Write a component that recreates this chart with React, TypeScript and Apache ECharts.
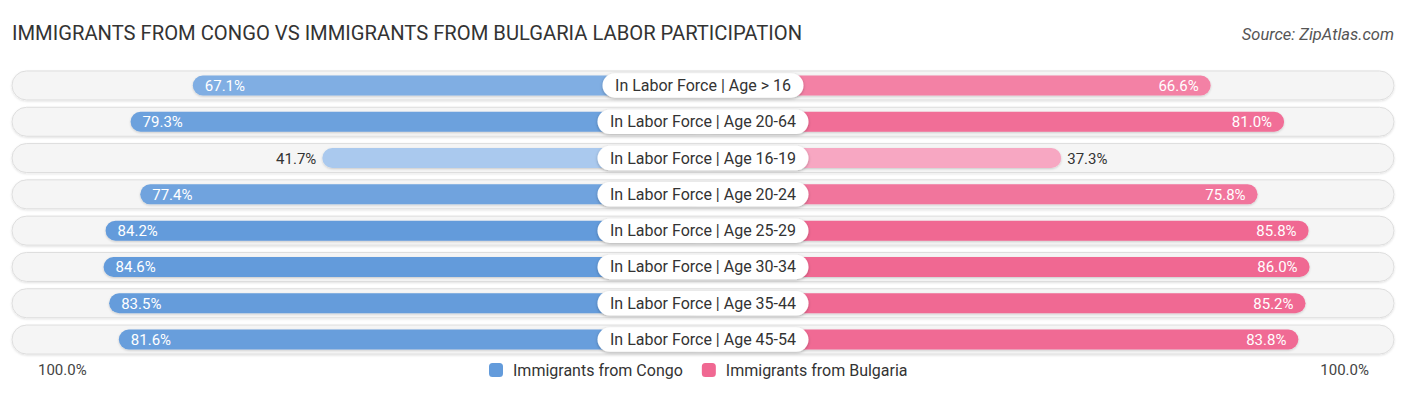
import React, { useEffect, useRef } from "react";
import * as echarts from "echarts";

const TITLE = "IMMIGRANTS FROM CONGO VS IMMIGRANTS FROM BULGARIA LABOR PARTICIPATION";
const SOURCE = "Source: ZipAtlas.com";
const CATEGORIES = [
  "In Labor Force | Age > 16",
  "In Labor Force | Age 20-64",
  "In Labor Force | Age 16-19",
  "In Labor Force | Age 20-24",
  "In Labor Force | Age 25-29",
  "In Labor Force | Age 30-34",
  "In Labor Force | Age 35-44",
  "In Labor Force | Age 45-54",
];
const CONGO = [67.1, 79.3, 41.7, 77.4, 84.2, 84.6, 83.5, 81.6];
const BULGARIA = [66.6, 81.0, 37.3, 75.8, 85.8, 86.0, 85.2, 83.8];
const SERIES_NAMES = ["Immigrants from Congo", "Immigrants from Bulgaria"];
const AXIS_MAX = 100;

const BLUE_LIGHT = [170, 201, 238];
const BLUE_DARK = [99, 155, 219];
const PINK_LIGHT = [247, 167, 194];
const PINK_DARK = [240, 104, 146];

function shade(v: number, vals: number[], light: number[], dark: number[]) {
  const lo = Math.min(...vals);
  const hi = Math.max(...vals);
  const t = hi === lo ? 1 : (v - lo) / (hi - lo);
  const c = light.map((l, i) => Math.round(l + (dark[i] - l) * t));
  return `rgb(${c[0]},${c[1]},${c[2]})`;
}

const FONT = "Roboto, 'Noto Sans', sans-serif";

export default function App() {
  const ref = useRef<HTMLDivElement>(null);
  useEffect(() => {
    if (!ref.current) return;
    const chart = echarts.init(ref.current, undefined, { renderer: "svg" });
    const gridTop = 67.3;
    const gridHeight = 290.4;

    const barSeries = (side: number) => {
      const vals = side === 0 ? CONGO : BULGARIA;
      const light = side === 0 ? BLUE_LIGHT : PINK_LIGHT;
      const dark = side === 0 ? BLUE_DARK : PINK_DARK;
      return {
        type: "custom",
        name: SERIES_NAMES[side],
        xAxisIndex: side,
        yAxisIndex: side,
        z: 3,
        itemStyle: { color: `rgb(${dark.join(",")})` },
        data: vals.map((v, i) => [v, i]),
        renderItem: (params: any, api: any) => {
          const v = api.value(0);
          const idx = api.value(1);
          const p = api.coord([v, idx]);
          const cx = api.getWidth() / 2;
          const h = 20;
          const x0 = side === 0 ? p[0] : cx;
          const w = Math.abs(p[0] - cx);
          const inside = v >= 50;
          const label = v.toFixed(1) + "%";
          let tx: number;
          let align: string;
          if (side === 0) {
            tx = inside ? p[0] + 12 : p[0] - 6;
            align = inside ? "left" : "right";
          } else {
            tx = inside ? p[0] - 12 : p[0] + 6;
            align = inside ? "right" : "left";
          }
          return {
            type: "group",
            children: [
              {
                type: "rect",
                shape: { x: x0, y: p[1] - h / 2, width: w, height: h, r: h / 2 },
                style: {
                  fill: shade(v, vals, light, dark),
                  shadowColor: "rgba(0,0,0,0.18)",
                  shadowBlur: 2,
                  shadowOffsetY: 1,
                },
              },
              {
                type: "text",
                x: tx,
                y: p[1] + 0.5,
                style: {
                  text: label,
                  fill: inside ? "#ffffff" : "#333333",
                  font: `15px ${FONT}`,
                  align,
                  verticalAlign: "middle",
                },
              },
            ],
          };
        },
      };
    };

    const option: any = {
      animation: false,
      textStyle: { fontFamily: FONT },
      title: [
        {
          text: TITLE,
          left: 7,
          top: 18,
          textStyle: { fontSize: 20.2, fontWeight: "normal", color: "#333", fontFamily: FONT },
        },
        {
          text: SOURCE,
          right: 7,
          top: 21,
          textStyle: { fontSize: 16.5, fontWeight: "normal", fontStyle: "italic", color: "#555", fontFamily: FONT },
        },
      ],
      legend: {
        data: SERIES_NAMES.map((n) => ({ name: n, icon: "roundRect" })),
        left: 484,
        top: 357,
        itemWidth: 14,
        itemHeight: 14,
        itemGap: 19,
        textStyle: { fontSize: 16, color: "#333", fontFamily: FONT, padding: [0, 0, 0, 5] },
      },
      grid: [
        { left: 25, width: 510, top: gridTop, height: gridHeight },
        { left: 871, width: 510, top: gridTop, height: gridHeight },
      ],
      xAxis: [0, 1].map((g) => ({
        type: "value",
        gridIndex: g,
        min: 0,
        max: AXIS_MAX,
        interval: AXIS_MAX,
        inverse: g === 0,
        axisLine: { show: false },
        axisTick: { show: false },
        splitLine: { show: false },
        axisLabel: {
          fontSize: 15,
          color: "#444",
          margin: 5,
          align: g === 0 ? "left" : "right",
          padding: g === 0 ? [0, 0, 0, 13] : [0, 12, 0, 0],
          formatter: (v: number) => (v === AXIS_MAX ? AXIS_MAX.toFixed(1) + "%" : ""),
        },
      })),
      yAxis: [0, 1].map((g) => ({
        type: "category",
        gridIndex: g,
        data: CATEGORIES,
        inverse: true,
        show: false,
      })),
      series: [
        {
          type: "custom",
          name: "bg",
          xAxisIndex: 0,
          yAxisIndex: 0,
          z: 1,
          silent: true,
          data: CATEGORIES.map((_, i) => [AXIS_MAX, i]),
          renderItem: (params: any, api: any) => {
            const p = api.coord([api.value(0), api.value(1)]);
            const W = api.getWidth();
            const x0 = p[0] - 13;
            const h = 29;
            return {
              type: "rect",
              shape: { x: x0, y: p[1] - h / 2, width: W - 2 * x0, height: h, r: h / 2 },
              style: {
                fill: "#f5f5f5",
                stroke: "#dedede",
                lineWidth: 1,
                shadowColor: "rgba(0,0,0,0.12)",
                shadowBlur: 2,
                shadowOffsetY: 1,
              },
            };
          },
        },
        barSeries(0),
        barSeries(1),
        {
          type: "custom",
          name: "labels",
          xAxisIndex: 0,
          yAxisIndex: 0,
          z: 5,
          silent: true,
          data: CATEGORIES.map((_, i) => [0, i]),
          renderItem: (params: any, api: any) => {
            const idx = api.value(1);
            const p = api.coord([0, idx]);
            const cx = api.getWidth() / 2;
            return {
              type: "text",
              x: cx,
              y: p[1],
              style: {
                text: CATEGORIES[idx],
                fill: "#333",
                font: `16px ${FONT}`,
                align: "center",
                verticalAlign: "middle",
                backgroundColor: "#ffffff",
                padding: [4, 12.5, 3.5, 12.5],
                borderRadius: 12.5,
                lineHeight: 17,
                shadowColor: "rgba(0,0,0,0.28)",
                shadowBlur: 3,
                shadowOffsetY: 1,
              },
            };
          },
        },
      ],
    };
    chart.setOption(option);
    return () => chart.dispose();
  }, []);
  return (
    <div
      ref={ref}
      style={{ position: "fixed", left: 0, top: 0, width: 1406, height: 395, background: "#fff" }}
    />
  );
}
